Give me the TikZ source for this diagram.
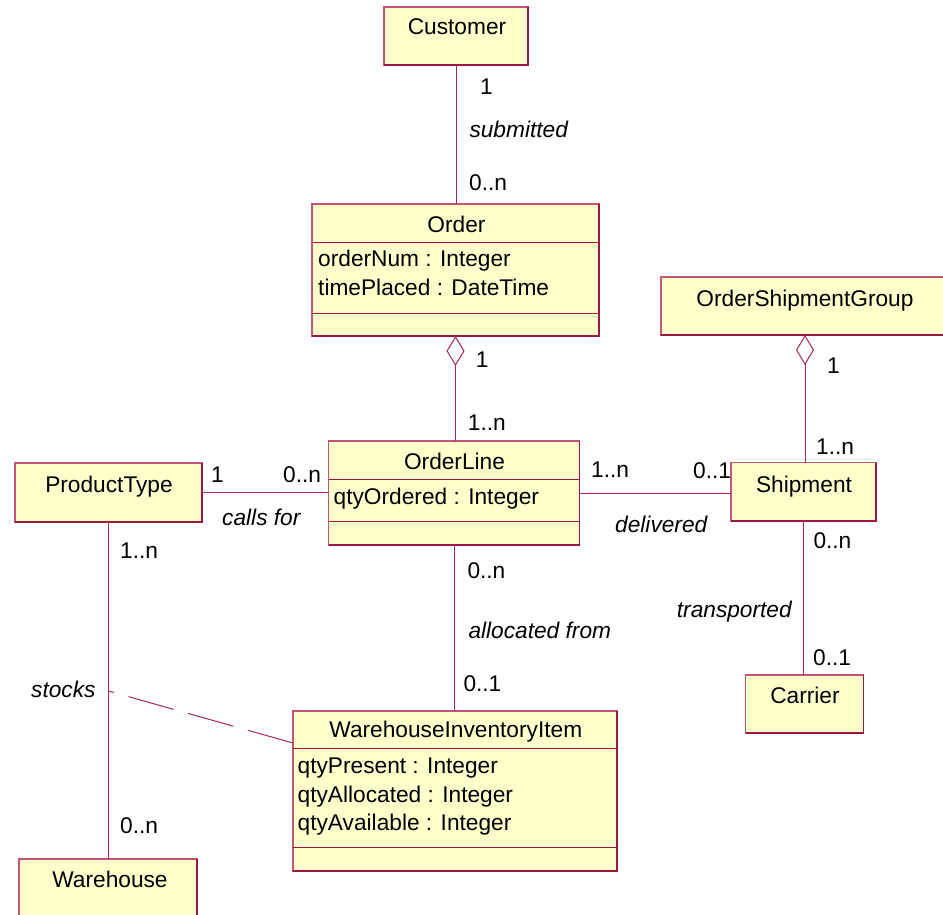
\documentclass[tikz,border=0pt]{standalone}
\usepackage{fontspec}
\setmainfont{Liberation Sans}
\usetikzlibrary{arrows.meta}

\definecolor{boxfill}{RGB}{255,255,204}
\definecolor{edgelight}{RGB}{196,84,118}
\definecolor{edgedark}{RGB}{160,22,66}
\definecolor{assocline}{RGB}{172,40,82}

\tikzset{
  umlbox/.style={draw=edgelight, fill=boxfill, line width=1.2pt,
                 inner sep=0pt, outer sep=0pt, anchor=north west},
  ttl/.style={inner sep=0pt, anchor=base, font=\fontsize{22.7}{27}\selectfont},
  attr/.style={inner sep=0pt, anchor=base west, font=\fontsize{22.7}{27}\selectfont},
  mult/.style={inner sep=0pt, anchor=base west, font=\fontsize{22.7}{27}\selectfont},
  role/.style={inner sep=0pt, anchor=base west, font=\fontsize{22.7}{27}\selectfont\itshape},
  assoc/.style={draw=assocline, line width=1pt},
  stockline/.style={assoc, dash pattern=on 47pt off 15pt},
  sepline/.style={draw=edgedark, line width=1pt},
  aggr/.style={assoc, {Diamond[open, length=30pt, width=18pt, line width=1pt]}-},
}

% class rectangle: name, left, top, width, height
\newcommand\classbox[5]{%
  \node[umlbox, minimum width=#4pt, minimum height=#5pt] (#1) at (#2,#3) {};
  \draw[draw=edgedark, line width=1.2pt] (#1.north east) -- (#1.south east) -- (#1.south west);
}
% compartment divider: box name, offset from top
\newcommand\compsep[2]{%
  \draw[sepline] ([yshift=-#2pt]#1.north west) -- ([yshift=-#2pt]#1.north east);
}

\begin{document}
\begin{tikzpicture}[x=1pt, y=-1pt]
\useasboundingbox (0,0) rectangle (943,915);

% ---- classes ----
\classbox{customer}{384}{7}{144}{58}
\node[ttl] (customerT) at (457,35) {Customer};

\classbox{order}{312}{204}{287}{132}
\compsep{order}{38}
\compsep{order}{109}
\node[ttl] (orderT) at (456.5,233) {Order};
\node[attr] (orderA1) at (318,266) {orderNum : Integer};
\node[attr] (orderA2) at (318,295) {timePlaced : DateTime};

\classbox{osg}{661}{277}{288}{58}
\node[ttl] (osgT) at (805,306) {OrderShipmentGroup};

\classbox{ptype}{15}{463}{187}{59}
\node[ttl] (ptypeT) at (109,492) {ProductType};

\classbox{oline}{328.5}{441}{251}{104}
\compsep{oline}{38.3}
\compsep{oline}{80}
\node[ttl] (olineT) at (454.5,469) {OrderLine};
\node[attr] (olineA1) at (333.5,504) {qtyOrdered : Integer};

\classbox{ship}{731}{462.5}{145}{58.5}
\node[ttl] (shipT) at (804,492) {Shipment};

\classbox{carrier}{745.5}{675}{118}{58}
\node[ttl] (carrierT) at (805,703) {Carrier};

\classbox{wii}{293}{711}{324}{160}
\compsep{wii}{37.5}
\compsep{wii}{136.5}
\node[ttl] (wiiT) at (455.8,737) {WarehouseInventoryItem};
\node[attr] (wiiA1) at (297.5,773) {qtyPresent : Integer};
\node[attr] (wiiA2) at (297.5,802) {qtyAllocated : Integer};
\node[attr] (wiiA3) at (297.5,830) {qtyAvailable : Integer};

\classbox{warehouse}{19}{859}{178}{70}
\node[ttl] (warehouseT) at (110,887) {Warehouse};

% ---- associations ----
\draw[assoc] (customer.south) -- (customer.south |- order.north);
\node[mult] (m1) at (480,95) {1};
\node[role] (r1) at (469.3,138) {submitted};
\node[mult] (m2) at (469,190) {0..n};

\draw[aggr] (order.south) -- (order.south |- oline.north);
\node[mult] (m3) at (475.7,367) {1};
\node[mult] (m4) at (467.7,430) {1..n};

\draw[assoc] (ptype.east) -- (ptype.east -| oline.west);
\node[mult] (m5) at (211,482) {1};
\node[mult] (m6) at (283,482) {0..n};
\node[role] (r2) at (222,525) {calls for};

\draw[assoc] (oline.east) -- (oline.east -| ship.west);
\node[mult] (m7) at (591,477) {1..n};
\node[mult] (m8) at (693,478) {0..1};
\node[role] (r3) at (615,532) {delivered};

\draw[aggr] (osg.south) -- (osg.south |- ship.north);
\node[mult] (m9) at (827,373) {1};
\node[mult] (m10) at (816,454) {1..n};

\draw[assoc] (ship.south) -- (ship.south |- carrier.north);
\node[mult] (m11) at (813.3,548) {0..n};
\node[role] (r4) at (676.7,617) {transported};
\node[mult] (m12) at (813,665) {0..1};

\draw[assoc] (oline.south) -- (oline.south |- wii.north);
\node[mult] (m13) at (467.3,578) {0..n};
\node[role] (r5) at (468.3,638) {allocated from};
\node[mult] (m14) at (463.3,691) {0..1};

\draw[assoc] (ptype.south) -- (ptype.south |- warehouse.north);
\node[mult] (m15) at (120,558) {1..n};
\node[mult] (m16) at (120,833) {0..n};

% association class link
\coordinate (stockmid) at (ptype.south |- 0,691);
\coordinate (stockend) at ([yshift=-32pt]wii.north west);
\draw[stockline] (stockend) -- (stockmid);
\node[role] (r6) at (31,697) {stocks};
\end{tikzpicture}
\end{document}
